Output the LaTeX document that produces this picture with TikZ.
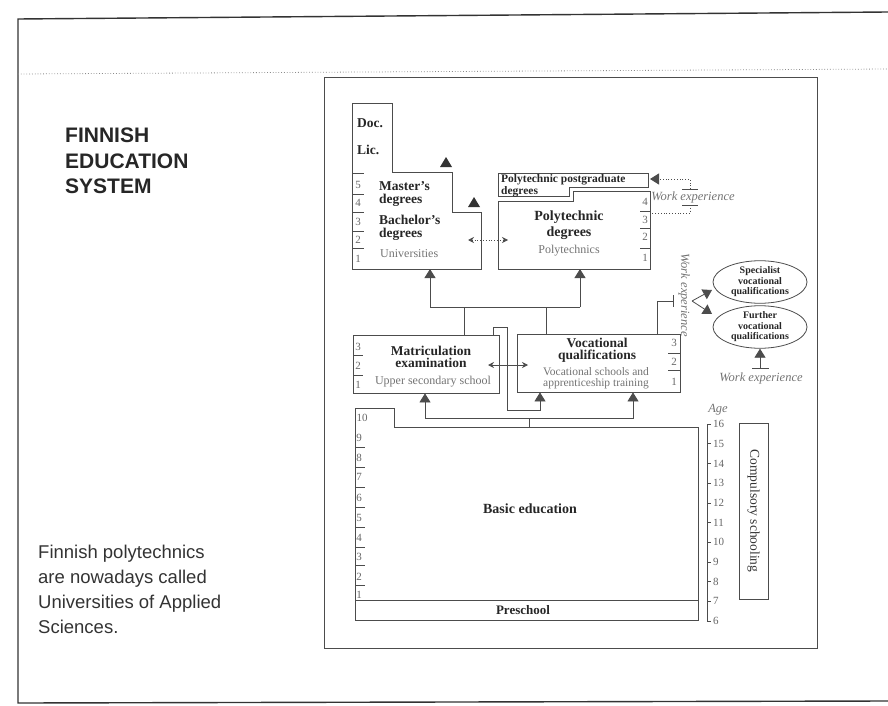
\documentclass[tikz,border=0pt]{standalone}
\usepackage{fontspec}
\setmainfont{Liberation Serif}
\newfontfamily\arialfont{Liberation Sans}
\usetikzlibrary{arrows.meta,shapes.geometric}

\tikzset{
  trait/.style={draw=black!70, line width=0.8pt},
  fleche/.style={trait, -{Triangle[length=9pt,width=11pt]}},
  boite/.style={trait, inner sep=0pt},
  gras/.style={font=\bfseries\fontsize{13.5}{13}\selectfont, align=center, text=black!85, inner sep=0pt},
  etab/.style={font=\fontsize{12}{13}\selectfont, align=center, text=black!55, inner sep=0pt},
  num/.style={font=\fontsize{11}{11}\selectfont, text=black!60, inner sep=0pt},
  travail/.style={font=\itshape\fontsize{12.5}{13}\selectfont, text=black!55, inner sep=0pt},
}

\begin{document}
\begin{tikzpicture}[x=1pt, y=-1pt]
  \useasboundingbox (0,0) rectangle (888,706);

  % Le cadre
  \draw[black!80, line width=1.4pt] (888,12) -- (18,19) -- (18,703) -- (888,701);
  \draw[black!45, dotted, line width=0.8pt] (18,74) -- (888,69);
  \draw[trait] (324,77) rectangle (817,648);

  % Les textes
  \node[anchor=north west, inner sep=0pt, align=left, text=black!85,
        font=\arialfont\bfseries\fontsize{21}{25.5}\selectfont] (titre) at (65,128) {FINNISH\\EDUCATION\\SYSTEM};
  \node[anchor=north west, inner sep=0pt, align=left, text=black!80,
        font=\arialfont\fontsize{18.5}{25}\selectfont] (note) at (38,545) {Finnish polytechnics\\are nowadays called\\Universities of Applied\\Sciences.};

  % Les universites
  \draw[trait] (352,103) -- (392,103) -- (392,172) -- (452,172) -- (452,212) -- (481,212) -- (481,269) -- (352,269) -- cycle;
  \node[gras, anchor=west] (doc) at (357,123) {Doc.};
  \node[gras, anchor=west] (lic) at (357,150) {Lic.};
  \node[gras, anchor=west, align=left] (master) at (379,194) {Master's\\degrees};
  \node[gras, anchor=west, align=left] (bachelor) at (379,228) {Bachelor's\\degrees};
  \node[etab, anchor=west] (univ) at (380,254) {Universities};
  \foreach \n/\y in {5/185,4/203,3/222,2/240,1/259}
    \node[num] (u\n) at (358,\y) {\n};
  \foreach \y in {173,194,212,231,248}
    \draw[trait, line width=0.5pt] (352,\y) -- (364,\y);
  \fill[black!80] (440,167) -- (452,167) -- (446,157) -- cycle;
  \fill[black!80] (468,207) -- (480,207) -- (474,197) -- cycle;

  % Les polytechniques
  \draw[trait] (498,173) -- (648,173) -- (648,187) -- (569,187) -- (569,196) -- (498,196) -- cycle;
  \node[gras, anchor=north west, align=left, font=\bfseries\fontsize{11.5}{12}\selectfont] (postgrad) at (501,174) {Polytechnic postgraduate\\degrees};
  \draw[trait] (498,201) -- (573,201) -- (573,191) -- (650,191) -- (650,269) -- (498,269) -- cycle;
  \node[gras, font=\bfseries\fontsize{14}{16}\selectfont] (polydeg) at (569,225) {Polytechnic\\degrees};
  \node[etab] (poly) at (569,251) {Polytechnics};
  \foreach \n/\y in {4/202,3/220,2/237,1/258}
    \node[num] (p\n) at (645,\y) {\n};
  \foreach \y in {211,228,248}
    \draw[trait, line width=0.5pt] (640,\y) -- (650,\y);
  \draw[trait, dotted, {Stealth[length=6pt,width=6pt]}-{Stealth[length=6pt,width=6pt]}] (468,240) -- (508,240);

  % Experience vers le postgrade
  \node[travail] (we1) at (693,197) {Work experience};
  \draw[fleche, dotted] (690,189) |- (650,179);
  \draw[trait, dotted] (690,205) |- (650,213);
  \draw[trait] (682,189) -- (698,189);
  \draw[trait] (682,205) -- (698,205);

  % Le secondaire
  \node[boite, minimum width=146pt, minimum height=58pt] (matu) at (426,364) {};
  \node[gras, font=\bfseries\fontsize{13.5}{12.5}\selectfont] (matutxt) at (431,357) {Matriculation\\examination};
  \node[etab, font=\fontsize{12}{13}\selectfont] (lycee) at (433,382) {Upper secondary school};
  \foreach \n/\y in {3/347,2/366,1/385}
    \node[num] (m\n) at (358,\y) {\n};
  \foreach \y in {355,375}
    \draw[trait, line width=0.5pt] (353,\y) -- (363,\y);

  \node[boite, minimum width=163pt, minimum height=58pt] (voc) at (598.5,363) {};
  \node[gras, font=\bfseries\fontsize{13.5}{12.5}\selectfont] (voctxt) at (597,350) {Vocational\\qualifications};
  \node[etab, font=\fontsize{11.5}{10.5}\selectfont] (ecole) at (596,378) {Vocational schools and\\apprenticeship training};
  \foreach \n/\y in {3/343,2/362,1/382}
    \node[num] (v\n) at (674,\y) {\n};
  \foreach \y in {353,370}
    \draw[trait, line width=0.5pt] (668,\y) -- (680,\y);
  \draw[trait, {Stealth[length=6pt,width=6pt]}-{Stealth[length=6pt,width=6pt]}] (488,365) -- (528,365);

  % Les liaisons vers le haut
  \coordinate (bus1) at (430,307);
  \coordinate (bus2) at (580,307);
  \draw[trait] (bus1) -- (bus2);
  \draw[trait] (464,0 |- matu.north) -- (464,307);
  \draw[trait] (546,0 |- voc.north) -- (546,307);
  \draw[fleche] (bus1) -- (430,269);
  \draw[fleche] (bus2) -- (580,269);

  % Les qualifications professionnelles
  \node[boite, ellipse, minimum width=94pt, minimum height=40pt, align=center,
        font=\bfseries\fontsize{10}{10.5}\selectfont, text=black!85] (spec) at (760,282) {Specialist\\vocational\\qualifications};
  \node[boite, ellipse, minimum width=94pt, minimum height=42pt, align=center,
        font=\bfseries\fontsize{10}{10.5}\selectfont, text=black!85] (further) at (760,327) {Further\\vocational\\qualifications};
  \node[travail, rotate=-90] (we2) at (684,295) {Work experience};
  \draw[trait] (657,0 |- voc.north) |- (673,301);
  \draw[trait] (673,295) -- (673,307);
  \coordinate (split) at (692,301);
  \draw[fleche] (split) -- (712,290);
  \draw[fleche] (split) -- (712,314);
  \node[travail] (we3) at (761,378) {Work experience};
  \draw[trait] (752,368) -- (769,368);
  \draw[fleche] (760,368) -- (further.south);

  % L'enseignement de base
  \draw[trait] (355,408) -- (394,408) -- (394,427) -- (698,427) -- (698,620) -- (355,620) -- cycle;
  \draw[trait] (355,600) -- (698,600);
  \node[minimum width=343pt, minimum height=173pt, inner sep=0pt] (base) at (526.5,513.5) {};
  \node[gras, font=\bfseries\fontsize{14}{14}\selectfont] (basetxt) at (530,509) {Basic education};
  \node[gras, font=\bfseries\fontsize{13}{13}\selectfont] (presco) at (523,610) {Preschool};
  \node[num] (b10) at (362,418) {10};
  \foreach \n/\y in {9/438,8/458,7/477,6/498,5/518,4/538,3/557,2/577,1/595}
    \node[num] (b\n) at (359,\y) {\n};
  \foreach \y in {447,467,487,507,527,547,565,585}
    \draw[trait, line width=0.5pt] (355,\y) -- (365,\y);

  % Les liaisons depuis la base
  \coordinate (dist) at (529,418);
  \draw[trait] (529,0 |- base.north) -- (dist);
  \draw[fleche] (dist) -| (425,0 |- matu.south);
  \draw[fleche] (dist) -| (633,0 |- voc.south);
  \draw[fleche] (493,0 |- matu.north) -- (493,327) -- (507,327) -- (507,410) -| (540,0 |- voc.south);

  % Les ages
  \node[travail] (age) at (718,410) {Age};
  \draw[trait] (711,424) -- (707,424) -- (707,621) -- (711,621);
  \foreach \a in {6,...,16}{
    \pgfmathsetmacro\y{424+(16-\a)*19.7}
    \draw[trait, line width=0.5pt] (707,\y) -- (711,\y);
    \node[num, anchor=west] (a\a) at (713,\y) {\a};
  }
  \node[boite, minimum width=29pt, minimum height=176pt] (oblig) at (753.5,511) {};
  \node[rotate=-90, font=\fontsize{13.5}{14}\selectfont, text=black!80] (obligtxt) at (oblig) {Compulsory schooling};

\end{tikzpicture}
\end{document}
